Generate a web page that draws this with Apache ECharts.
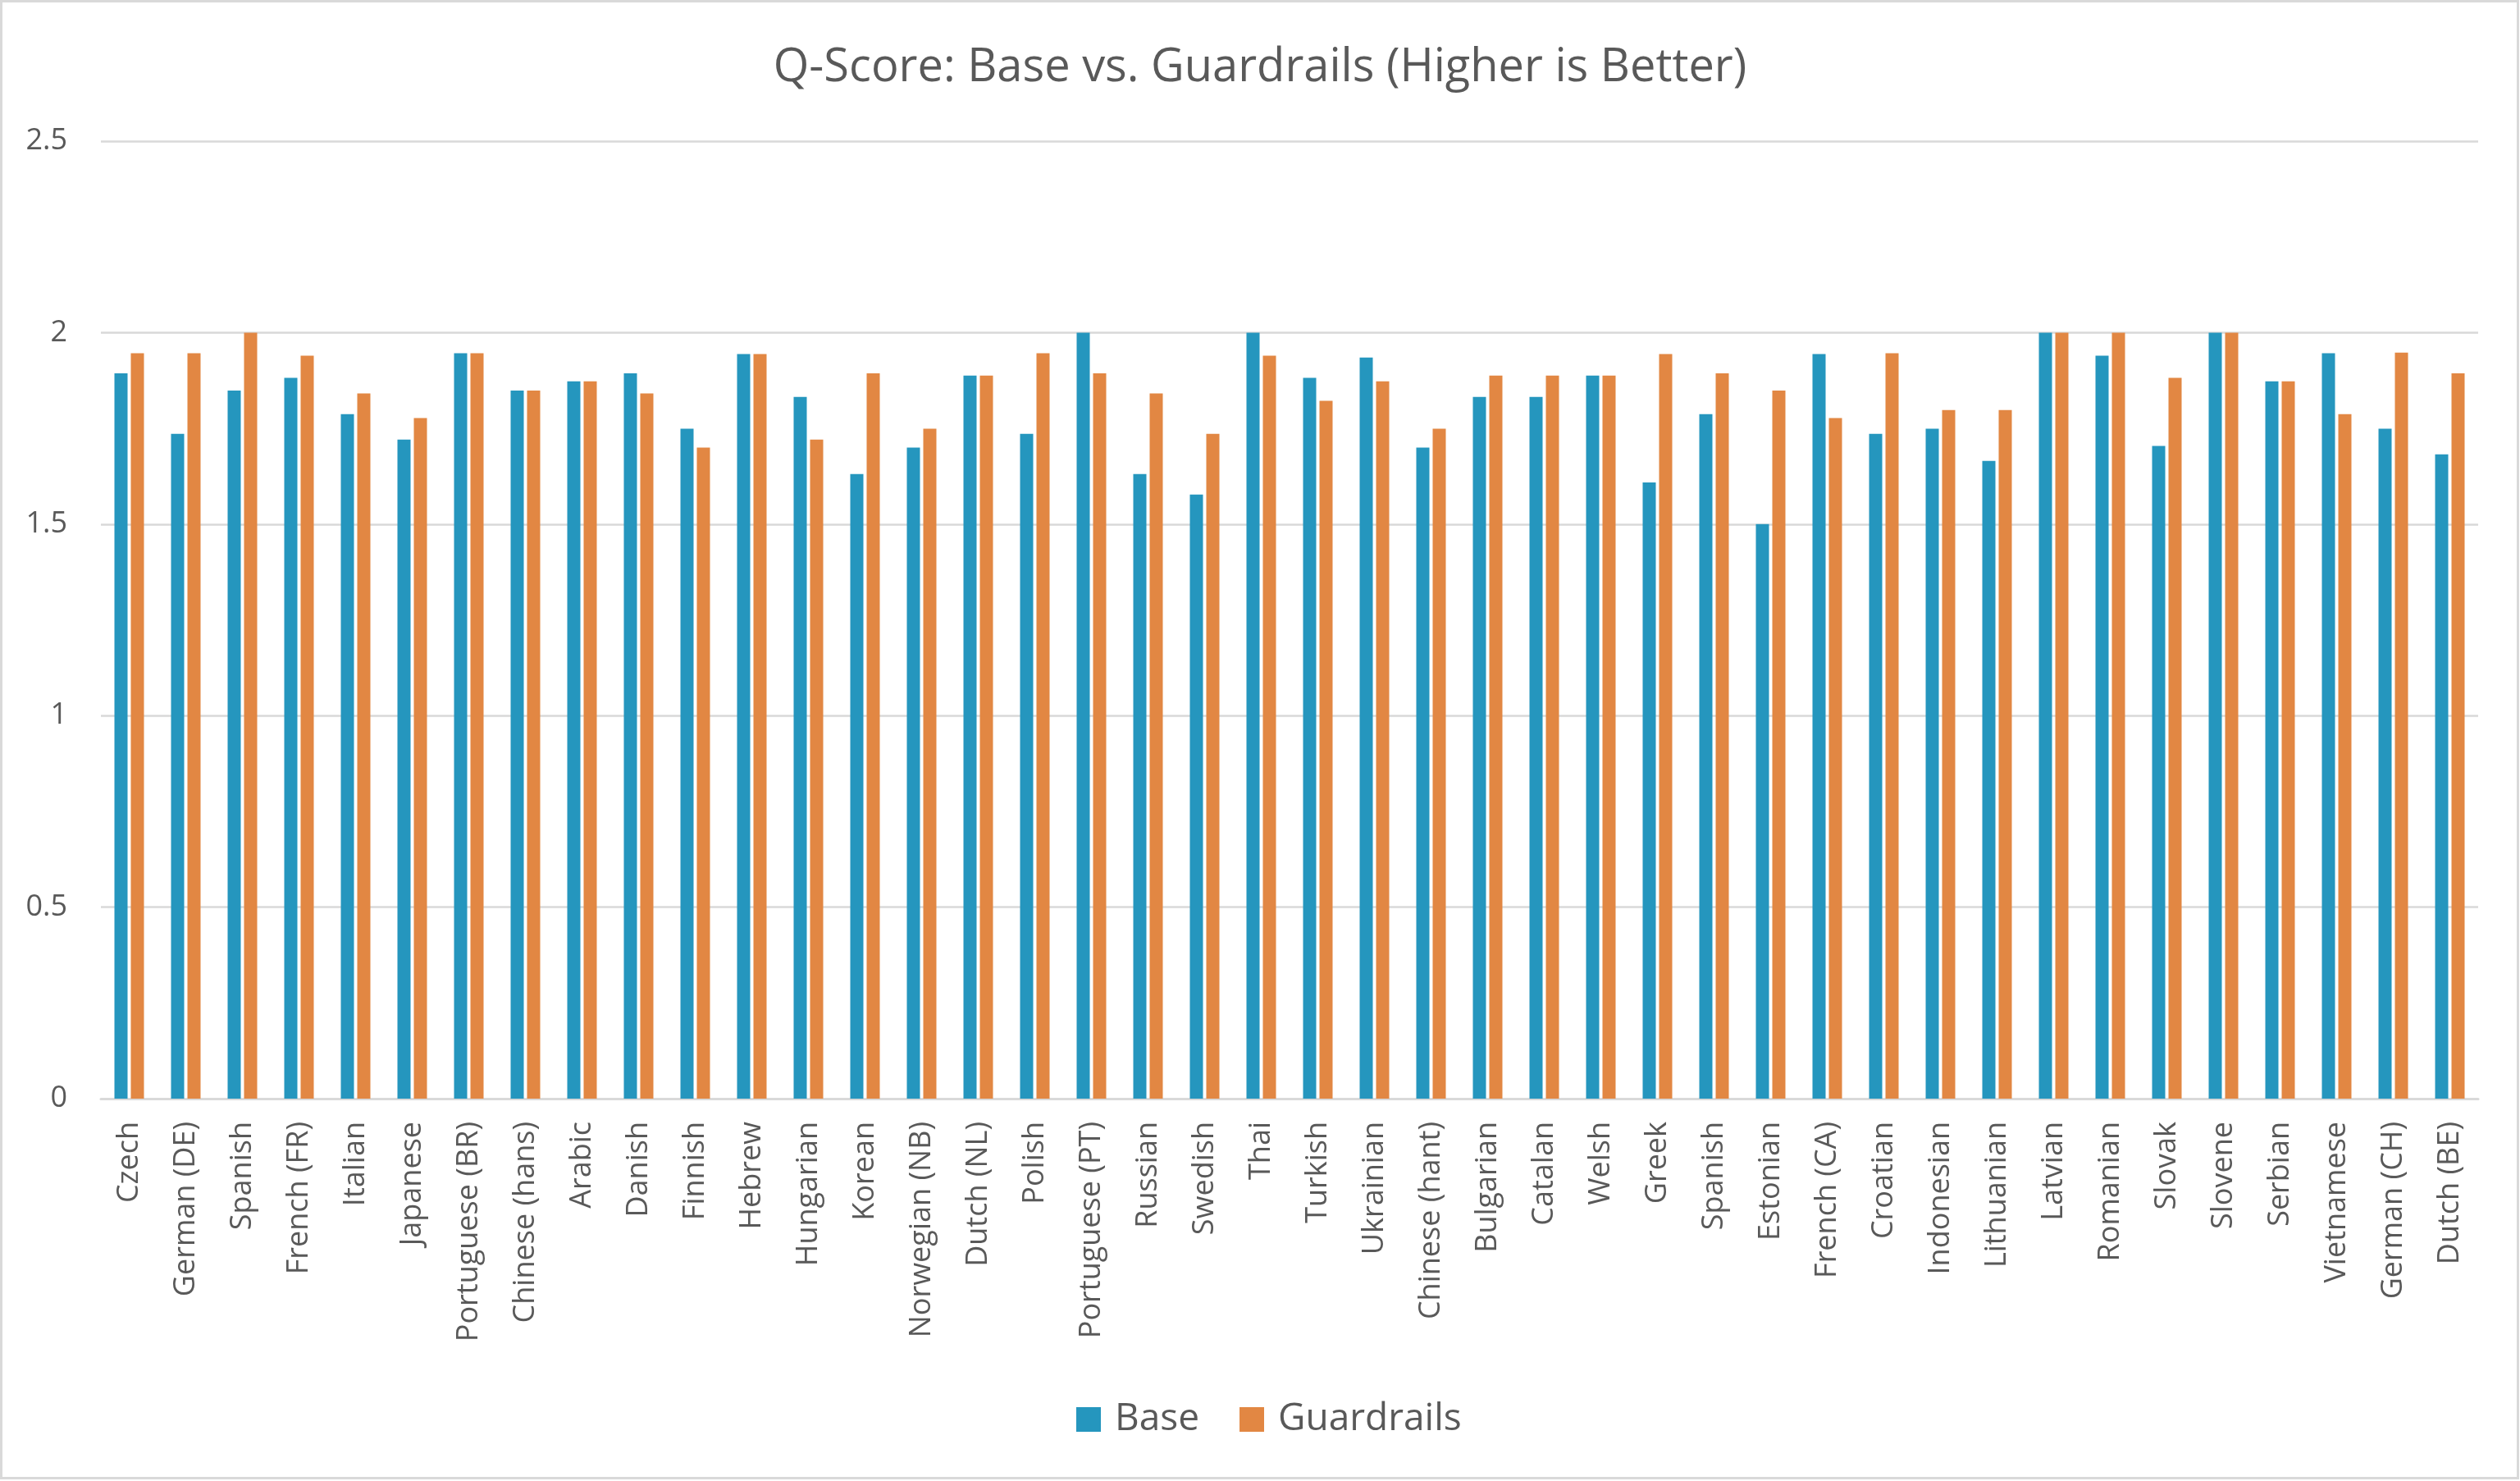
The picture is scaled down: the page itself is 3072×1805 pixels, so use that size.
<!DOCTYPE html>
<html>
<head>
<meta charset="utf-8">
<script src="https://cdn.jsdelivr.net/npm/echarts@6/dist/echarts.min.js"></script>
<style>
html,body{margin:0;padding:0;background:#fff;}
#chart{width:3072px;height:1805px;}
</style>
</head>
<body>
<div id="chart"></div>
<script>
const categories = ["Czech","German (DE)","Spanish","French (FR)","Italian","Japanese","Portuguese (BR)","Chinese (hans)","Arabic","Danish","Finnish","Hebrew","Hungarian","Korean","Norwegian (NB)","Dutch (NL)","Polish","Portuguese (PT)","Russian","Swedish","Thai","Turkish","Ukrainian","Chinese (hant)","Bulgarian","Catalan","Welsh","Greek","Spanish","Estonian","French (CA)","Croatian","Indonesian","Lithuanian","Latvian","Romanian","Slovak","Slovene","Serbian","Vietnamese","German (CH)","Dutch (BE)"];

const baseValues = [1.894,1.736,1.849,1.882,1.787,1.721,1.946,1.849,1.873,1.894,1.749,1.944,1.832,1.631,1.700,1.888,1.736,2.0,1.631,1.577,2.0,1.882,1.935,1.700,1.832,1.832,1.888,1.609,1.787,1.500,1.944,1.736,1.749,1.665,2.0,1.940,1.704,2.0,1.873,1.946,1.749,1.682];

const guardrailsValues = [1.946,1.946,2.0,1.940,1.841,1.777,1.946,1.849,1.873,1.841,1.700,1.944,1.721,1.894,1.749,1.888,1.946,1.894,1.841,1.736,1.940,1.822,1.873,1.749,1.888,1.888,1.888,1.944,1.894,1.849,1.777,1.946,1.798,1.798,2.0,2.0,1.882,2.0,1.873,1.787,1.948,1.894];

const seriesNames = ["Base","Guardrails"];
const yTicks = {min:0, max:2.5, interval:0.5};

const chart = echarts.init(document.getElementById('chart'), null, {renderer:'canvas'});
const FONT = "'Open Sans', sans-serif";
const option = {
  backgroundColor:'#ffffff',
  animation:false,
  title:{
    text:'Q-Score: Base vs. Guardrails (Higher is Better)',
    left:'center',
    top:47,
    textStyle:{fontFamily:FONT,fontSize:56,fontWeight:'normal',color:'#595959',lineHeight:62}
  },
  graphic:[{
    type:'rect',
    shape:{x:1.5,y:1.5,width:3068,height:1800},
    style:{fill:null,stroke:'#D9D9D9',lineWidth:3},
    silent:true
  }],
  legend:{
    data:seriesNames,
    bottom:52,
    left:1312,
    padding:0,
    itemWidth:30,
    itemHeight:30,
    itemGap:49,
    icon:'rect',
    textStyle:{fontFamily:FONT,fontSize:46,color:'#595959',padding:[0,0,0,12]}
  },
  grid:{left:123,right:51,top:172,bottom:466,containLabel:false},
  xAxis:{
    type:'category',
    data:categories,
    axisLine:{lineStyle:{color:'#D9D9D9',width:3}},
    axisTick:{show:false},
    axisLabel:{rotate:90,interval:0,fontFamily:FONT,fontSize:36,color:'#595959',margin:28}
  },
  yAxis:{
    type:'value',
    min:yTicks.min,max:yTicks.max,interval:yTicks.interval,
    axisLine:{show:false},
    axisTick:{show:false},
    splitLine:{lineStyle:{color:'#D9D9D9',width:2.5}},
    axisLabel:{fontFamily:FONT,fontSize:36,color:'#595959',margin:41}
  },
  series:[
    {name:seriesNames[0],type:'bar',data:baseValues,barWidth:16,barGap:'25%',itemStyle:{color:'#2596BE'}},
    {name:seriesNames[1],type:'bar',data:guardrailsValues,barWidth:16,barGap:'25%',itemStyle:{color:'#E28743'}}
  ]
};
chart.setOption(option);
</script>
</body>
</html>
